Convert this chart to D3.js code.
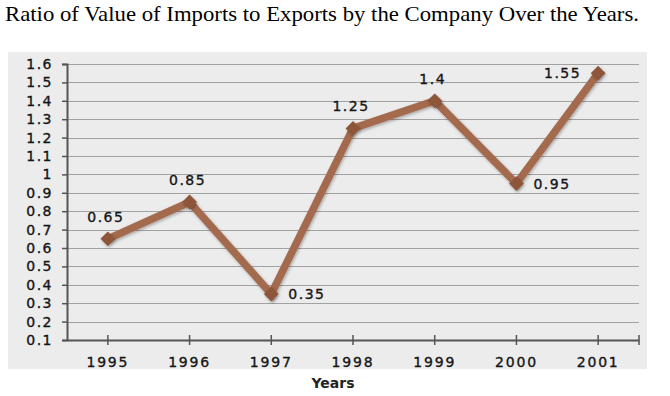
<!DOCTYPE html>
<html>
<head>
  <meta charset="UTF-8" />
  <script src="https://d3js.org/d3.v7.min.js"></script>
  <style>
    body { margin: 0; background: #fff; }
    text { font-family: "DejaVu Sans", Verdana, sans-serif; }
  </style>
</head>
<body>
  <script>
    // chart data
    var years = ["1995", "1996", "1997", "1998", "1999", "2000", "2001"];
    var ratios = [0.65, 0.85, 0.35, 1.25, 1.4, 0.95, 1.55];
    var yTicks = [0.1, 0.2, 0.3, 0.4, 0.5, 0.6, 0.7, 0.8, 0.9, 1, 1.1, 1.2, 1.3, 1.4, 1.5, 1.6];
    // where each value label sits relative to its point
    var labelSide = ["top", "top", "right", "top", "top", "right", "left"];

    var W = 670, H = 396;
    var plot = { left: 67, right: 639, top: 64, bottom: 340 };

    var svg = d3.select("body").append("svg")
      .attr("width", W)
      .attr("height", H);

    // title
    svg.append("text")
      .attr("x", 5)
      .attr("y", 21)
      .attr("textLength", 634)
      .attr("lengthAdjust", "spacingAndGlyphs")
      .style("font-family", "'Liberation Serif', 'Times New Roman', serif")
      .style("font-size", "22px")
      .attr("fill", "#000")
      .text("Ratio of Value of Imports to Exports by the Company Over the Years.");

    // grey chart panel
    svg.append("rect")
      .attr("x", 8).attr("y", 52)
      .attr("width", 639).attr("height", 317)
      .attr("fill", "#ececec");

    var x = d3.scaleBand()
      .domain(years)
      .range([plot.left, plot.right]);

    var y = d3.scaleLinear()
      .domain([0.1, 1.6])
      .range([plot.bottom, plot.top]);

    // gridlines
    svg.append("g")
      .selectAll("line")
      .data(yTicks.slice(1))
      .join("line")
      .attr("x1", plot.left)
      .attr("x2", plot.right)
      .attr("y1", function (d) { return Math.round(y(d)) + 0.5; })
      .attr("y2", function (d) { return Math.round(y(d)) + 0.5; })
      .attr("stroke", "#a2a2a2")
      .attr("stroke-width", 1);

    function inkText(sel, spacing) {
      sel.style("font-size", "14px")
        .style("letter-spacing", spacing + "px")
        .attr("fill", "#151515")
        .attr("stroke", "#151515")
        .attr("stroke-width", 0.35);
    }

    // y axis
    var yAxis = svg.append("g")
      .attr("transform", "translate(" + plot.left + ",0)")
      .call(d3.axisLeft(y).tickValues(yTicks).tickSize(5).tickPadding(9)
        .tickFormat(function (d) { return d3.format("")(+d.toFixed(1)); }));
    yAxis.select(".domain").attr("stroke", "#555").attr("stroke-width", 2);
    yAxis.selectAll(".tick line").attr("stroke", "#555").attr("stroke-width", 1.5);
    yAxis.selectAll("text").call(inkText, 1.5);

    // x axis
    var xAxis = svg.append("g")
      .attr("transform", "translate(0," + plot.bottom + ")")
      .call(d3.axisBottom(x).tickSize(5).tickSizeOuter(0).tickPadding(12));
    xAxis.select(".domain").attr("stroke", "#555").attr("stroke-width", 2);
    xAxis.selectAll(".tick line")
      .attr("y1", -5).attr("y2", 5)
      .attr("stroke", "#555").attr("stroke-width", 1.5);
    xAxis.selectAll("text").call(inkText, 1.8);
    // end tick at the right of the category axis
    xAxis.append("line")
      .attr("x1", plot.right).attr("x2", plot.right)
      .attr("y1", -5).attr("y2", 5)
      .attr("stroke", "#555").attr("stroke-width", 1.5);

    // axis title
    svg.append("text")
      .attr("x", 333)
      .attr("y", 388)
      .attr("text-anchor", "middle")
      .style("font-size", "14px")
      .style("font-weight", "bold")
      .attr("fill", "#222")
      .text("Years");

    var points = years.map(function (yr, i) {
      return { year: yr, value: ratios[i], side: labelSide[i] };
    });

    var cx = function (d) { return x(d.year) + x.bandwidth() / 2; };

    // shadow filter
    var defs = svg.append("defs");
    var f = defs.append("filter").attr("id", "soft")
      .attr("x", "-20%").attr("y", "-20%").attr("width", "140%").attr("height", "140%");
    f.append("feDropShadow")
      .attr("dx", 1).attr("dy", 1.5).attr("stdDeviation", 1.5)
      .attr("flood-color", "#000").attr("flood-opacity", 0.3);

    var line = d3.line()
      .x(cx)
      .y(function (d) { return y(d.value); });

    svg.append("path")
      .datum(points)
      .attr("d", line)
      .attr("fill", "none")
      .attr("stroke", "#a46a4e")
      .attr("stroke-width", 7.5)
      .attr("stroke-linejoin", "miter")
      .attr("filter", "url(#soft)");

    svg.append("g")
      .selectAll("path")
      .data(points)
      .join("path")
      .attr("d", d3.symbol().type(d3.symbolDiamond2).size(140))
      .attr("transform", function (d) { return "translate(" + cx(d) + "," + y(d.value) + ")"; })
      .attr("fill", "#8d573b")
      .attr("filter", "url(#soft)");

    // value labels
    svg.append("g")
      .selectAll("text")
      .data(points)
      .join("text")
      .attr("x", function (d) {
        if (d.side === "right") return cx(d) + 17;
        if (d.side === "left") return cx(d) - 17;
        return cx(d) - 2;
      })
      .attr("y", function (d) {
        if (d.side === "top") return y(d.value) - 17;
        return y(d.value) + 5;
      })
      .attr("text-anchor", function (d) {
        if (d.side === "right") return "start";
        if (d.side === "left") return "end";
        return "middle";
      })
      .call(inkText, 1.5)
      .text(function (d) { return d.value; });
  </script>
</body>
</html>
